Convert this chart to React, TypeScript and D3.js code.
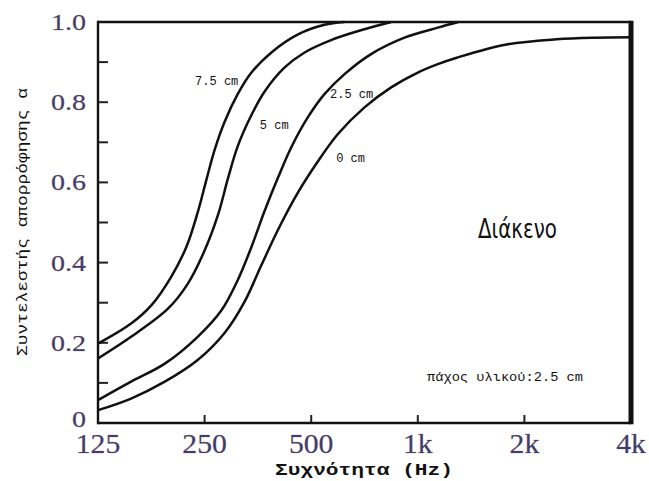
import React from "react";
import * as d3 from "d3";

// Absorption coefficient vs frequency for four air-gap depths behind a 2.5 cm panel
const freq75 = [125, 155, 177, 201, 222, 239, 253, 267, 285, 310, 339, 386, 459, 545, 620];
const alpha75 = [0.198, 0.248, 0.294, 0.364, 0.439, 0.525, 0.607, 0.682, 0.752, 0.82, 0.874, 0.924, 0.969, 0.993, 1.0];

const freq5 = [125, 155, 197, 224, 250, 273, 291, 310, 339, 369, 420, 479, 569, 707, 841];
const alpha5 = [0.161, 0.215, 0.285, 0.347, 0.43, 0.52, 0.61, 0.69, 0.768, 0.826, 0.886, 0.924, 0.955, 0.982, 1.0];

const freq25 = [125, 155, 193, 239, 279, 310, 339, 369, 403, 439, 489, 545, 621, 738, 917, 1139, 1300];
const alpha25 = [0.057, 0.103, 0.148, 0.215, 0.281, 0.356, 0.439, 0.528, 0.612, 0.687, 0.762, 0.82, 0.87, 0.92, 0.961, 0.986, 1.0];

const freq0 = [125, 155, 193, 239, 285, 324, 361, 403, 459, 522, 594, 707, 841, 1000, 1139, 1288, 1781, 2465, 3156, 4000];
const alpha0 = [0.032, 0.061, 0.103, 0.157, 0.225, 0.302, 0.392, 0.482, 0.575, 0.652, 0.72, 0.787, 0.837, 0.874, 0.895, 0.911, 0.944, 0.957, 0.961, 0.962];

const seriesNames = ["7.5 cm", "5 cm", "2.5 cm", "0 cm"];

const xTickValues = [125, 250, 500, 1000, 2000, 4000];
const xTickLabels = ["125", "250", "500", "1k", "2k", "4k"];
const yTickValues = [0, 0.2, 0.4, 0.6, 0.8, 1.0];
const yTickLabels = ["0", "0.2", "0.4", "0.6", "0.8", "1.0"];
const yMinorValues = [0.1, 0.2, 0.3, 0.4, 0.5, 0.6, 0.7, 0.8, 0.9];

// curve label anchors (frequency, alpha)
const labelFreq = [235, 358, 565, 588];
const labelAlpha = [0.843, 0.733, 0.81, 0.652];

const W = 649;
const H = 481;
const left = 98;
const right = 631;
const top = 22;
const bottom = 423;

const x = d3.scaleLog().base(2).domain([125, 4000]).range([left, right]);
const y = d3.scaleLinear().domain([0, 1]).range([bottom, top]);

const line = d3
  .line<[number, number]>()
  .x((d) => x(d[0]))
  .y((d) => y(d[1]))
  .curve(d3.curveCatmullRom.alpha(0.5));

const zip = (f: number[], a: number[]) => f.map((v, i) => [v, a[i]] as [number, number]);

const curves = [zip(freq75, alpha75), zip(freq5, alpha5), zip(freq25, alpha25), zip(freq0, alpha0)];

const tickFont = "'Liberation Serif', 'DejaVu Serif', serif";
const tickFill = "#3c3d74";

export default function App() {
  const mono = "'Liberation Mono', 'DejaVu Sans Mono', monospace";
  return (
    <svg
      width={W}
      height={H}
      viewBox={`0 0 ${W} ${H}`}
      style={{ position: "absolute", left: 0, top: 0, background: "#fff" }}
    >
      <rect x={0} y={0} width={W} height={H} fill="#fff" />

      {/* y ticks every 0.1, pointing inward */}
      {yMinorValues.map((v) => (
        <line key={"yt" + v} x1={left} x2={left + 10} y1={y(v)} y2={y(v)} stroke="#222" strokeWidth={2} />
      ))}
      {/* x ticks at each octave, pointing inward */}
      {xTickValues.slice(1, -1).map((v) => (
        <line key={"xt" + v} x1={x(v)} x2={x(v)} y1={bottom} y2={bottom - 8} stroke="#222" strokeWidth={2} />
      ))}

      {/* absorption curves */}
      {curves.map((c, i) => (
        <path key={seriesNames[i]} d={line(c) || ""} fill="none" stroke="#111" strokeWidth={2.5} strokeLinejoin="round" />
      ))}

      {/* frame */}
      <line x1={left} x2={right} y1={top} y2={top} stroke="#111" strokeWidth={2.6} />
      <line x1={left} x2={right} y1={bottom} y2={bottom} stroke="#111" strokeWidth={2.4} />
      <line x1={left} x2={left} y1={top - 1.3} y2={bottom + 1.2} stroke="#111" strokeWidth={2.4} />
      <line x1={right} x2={right} y1={top - 1.3} y2={bottom + 1.2} stroke="#111" strokeWidth={5} />

      {/* y tick labels */}
      {yTickValues.map((v, i) => (
        <g key={"yl" + v} transform={`translate(86,${y(v) + 8 - (v === 0 ? 4 : 0)}) scale(1.22,1)`}>
          <text
            textAnchor="end"
            fontFamily={tickFont}
            fontSize={23}
            fill={tickFill}
            stroke="#c9873f"
            strokeWidth={0.5}
            strokeOpacity={0.7}
            paintOrder="stroke"
          >
            {yTickLabels[i]}
          </text>
        </g>
      ))}
      {/* x tick labels */}
      {xTickValues.map((v, i) => (
        <g key={"xl" + v} transform={`translate(${x(v)},453) scale(1.1,1)`}>
          <text
            textAnchor="middle"
            fontFamily={tickFont}
            fontSize={27}
            fill={tickFill}
            stroke="#c9873f"
            strokeWidth={0.5}
            strokeOpacity={0.7}
            paintOrder="stroke"
          >
            {xTickLabels[i]}
          </text>
        </g>
      ))}

      {/* curve labels */}
      {seriesNames.map((n, i) => (
        <text key={"cl" + n} x={x(labelFreq[i])} y={y(labelAlpha[i])} fontFamily={mono} fontSize={12} fill="#111">
          {n}
        </text>
      ))}

      <text
        x={478}
        y={238}
        fontFamily="'Liberation Sans Narrow', 'DejaVu Sans Condensed', 'Liberation Sans', sans-serif"
        fontSize={27}
        fill="#111"
        textLength={79}
        lengthAdjust="spacingAndGlyphs"
      >
        Διάκενο
      </text>

      <text x={427} y={381} fontFamily={mono} fontSize={13.5} fill="#111" textLength={156} lengthAdjust="spacingAndGlyphs">
        πάχος υλικού:2.5 cm
      </text>

      {/* axis titles */}
      <text
        x={364}
        y={475}
        textAnchor="middle"
        fontFamily={mono}
        fontSize={16}
        fontWeight="bold"
        fill="#111"
        textLength={178}
        lengthAdjust="spacingAndGlyphs"
      >
        Συχνότητα (Hz)
      </text>
      <text
        transform={`translate(27,222) rotate(-90)`}
        textAnchor="middle"
        fontFamily={mono}
        fontSize={15}
        fill="#111"
        textLength={268}
        lengthAdjust="spacingAndGlyphs"
      >
        Συντελεστής απορρόφησης α
      </text>
    </svg>
  );
}
